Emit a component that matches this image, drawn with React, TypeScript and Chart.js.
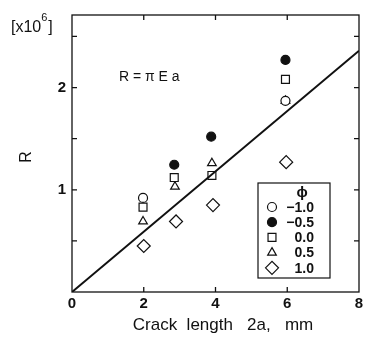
import React, { useEffect, useRef } from 'react';
import { Chart, registerables } from 'chart.js';
import { drawPoint } from 'chart.js/helpers';

Chart.register(...registerables);

// Data (R in units of 1e6, crack length 2a in mm)
const phiLabels = ['\u22121.0', '\u22120.5', '0.0', '0.5', '1.0'];
const xPhiM10 = [1.98, 5.95];
const yPhiM10 = [0.92, 1.87];
const xPhiM05 = [2.85, 3.88, 5.95];
const yPhiM05 = [1.245, 1.52, 2.27];
const xPhi00 = [1.98, 2.85, 3.9, 5.95];
const yPhi00 = [0.83, 1.12, 1.14, 2.08];
const xPhi05 = [1.98, 2.87, 3.9, 5.95];
const yPhi05 = [0.69, 1.03, 1.26, 1.87];
const xPhi10 = [2.0, 2.9, 3.93, 5.97];
const yPhi10 = [0.45, 0.69, 0.85, 1.27];
const lineX = [0, 8];
const lineY = [0, 2.36];
const xTicks = [2, 4, 6];
const yTicks = [0.5, 1, 1.5, 2, 2.5];

const FONT = '"Liberation Sans", Arial, sans-serif';
const INK = '#111';

const styles = [
  { pointStyle: 'circle', radius: 4.5, fill: '#fff' },
  { pointStyle: 'circle', radius: 4.5, fill: INK },
  { pointStyle: 'rect', radius: 5.6, fill: '#fff' },
  { pointStyle: 'triangle', radius: 5, fill: '#fff' },
  { pointStyle: 'rectRot', radius: 6.5, fill: '#fff' },
];

const zip = (xs: number[], ys: number[]) => xs.map((x, i) => ({ x, y: ys[i] }));

const decor = {
  id: 'decor',
  afterDraw(chart: any) {
    const ctx = chart.ctx as CanvasRenderingContext2D;
    const { left, right, top, bottom } = chart.chartArea;
    const xs = chart.scales.x;
    const ys = chart.scales.y;
    ctx.save();
    ctx.strokeStyle = INK;
    ctx.fillStyle = INK;
    ctx.lineWidth = 1.3;
    // frame
    ctx.strokeRect(left, top, right - left, bottom - top);
    // inward ticks
    ctx.beginPath();
    xTicks.forEach((v) => {
      const px = xs.getPixelForValue(v);
      ctx.moveTo(px, bottom);
      ctx.lineTo(px, bottom - 5);
      ctx.moveTo(px, top);
      ctx.lineTo(px, top + 5);
    });
    yTicks.forEach((v) => {
      const py = ys.getPixelForValue(v);
      ctx.moveTo(left, py);
      ctx.lineTo(left + 5, py);
      ctx.moveTo(right, py);
      ctx.lineTo(right - 5, py);
    });
    ctx.stroke();

    // texts
    ctx.textBaseline = 'middle';
    ctx.textAlign = 'left';
    ctx.font = `16px ${FONT}`;
    ctx.fillText('[x10', 11, 28);
    const w1 = ctx.measureText('[x10').width;
    ctx.font = `11px ${FONT}`;
    ctx.fillText('6', 11 + w1, 18);
    const w2 = ctx.measureText('6').width;
    ctx.font = `16px ${FONT}`;
    ctx.fillText(']', 11 + w1 + w2 + 1, 28);

    ctx.font = `14px ${FONT}`;
    ctx.fillText('R = \u03c0 E a', 119, 77);

    ctx.save();
    ctx.translate(27, 157);
    ctx.rotate(-Math.PI / 2);
    ctx.textAlign = 'center';
    ctx.font = `16px ${FONT}`;
    ctx.fillText('R', 0, 0);
    ctx.restore();

    ctx.textAlign = 'center';
    ctx.font = `17px ${FONT}`;
    ctx.fillText('Crack  length   2a,   mm', 223, 325);

    // legend
    const lx = 258, ly = 183, lw = 72, lh = 95;
    ctx.fillStyle = '#fff';
    ctx.fillRect(lx, ly, lw, lh);
    ctx.lineWidth = 1.2;
    ctx.strokeRect(lx, ly, lw, lh);
    ctx.fillStyle = INK;
    ctx.font = `bold 15px ${FONT}`;
    ctx.textAlign = 'center';
    ctx.fillText('\u03d5', 302, 193);
    ctx.textAlign = 'right';
    phiLabels.forEach((lab, i) => {
      const cy = 207 + i * 15.2;
      const st = styles[i];
      ctx.fillStyle = st.fill;
      ctx.strokeStyle = INK;
      ctx.lineWidth = 1.2;
      drawPoint(ctx, { pointStyle: st.pointStyle as any, radius: st.radius, rotation: 0, borderWidth: 1.2 }, 272, cy);
      ctx.fillStyle = INK;
      ctx.font = `bold 14px ${FONT}`;
      ctx.fillText(lab, 314, cy + 1);
    });
    ctx.restore();
  },
};

export default function App() {
  const ref = useRef<HTMLCanvasElement | null>(null);
  useEffect(() => {
    if (!ref.current) return;
    const series = [xPhiM10, xPhiM05, xPhi00, xPhi05, xPhi10];
    const vals = [yPhiM10, yPhiM05, yPhi00, yPhi05, yPhi10];
    const datasets: any[] = series.map((xsArr, i) => ({
      type: 'scatter',
      label: phiLabels[i],
      data: zip(xsArr, vals[i]),
      pointStyle: styles[i].pointStyle,
      pointRadius: styles[i].radius,
      pointBackgroundColor: styles[i].fill,
      pointBorderColor: INK,
      pointBorderWidth: 1.2,
      showLine: false,
    }));
    datasets.unshift({
      type: 'line',
      label: 'R = pi E a',
      data: zip(lineX, lineY),
      borderColor: INK,
      borderWidth: 2,
      pointRadius: 0,
      fill: false,
    });
    const chart = new Chart(ref.current, {
      type: 'scatter',
      data: { datasets },
      plugins: [decor],
      options: {
        responsive: false,
        animation: false,
        layout: { padding: { top: 14, right: 8, left: 0, bottom: 0 } },
        plugins: { legend: { display: false }, tooltip: { enabled: false } },
        scales: {
          x: {
            type: 'linear',
            min: 0,
            max: 8,
            grid: { display: false, drawTicks: false },
            border: { display: false },
            ticks: { stepSize: 2, font: { family: FONT, size: 15, weight: 'bold' }, color: INK, padding: 3, maxRotation: 0 },
            afterFit: (s: any) => { s.height = 45; },
          },
          y: {
            type: 'linear',
            min: 0,
            max: 2.71,
            grid: { display: false, drawTicks: false },
            border: { display: false },
            ticks: {
              stepSize: 0.5,
              font: { family: FONT, size: 15, weight: 'bold' },
              color: INK,
              padding: 6,
              callback: (v: any) => (v === 1 || v === 2 ? String(v) : ''),
            },
            afterFit: (s: any) => { s.width = 72; },
          },
        },
      } as any,
    });
    return () => chart.destroy();
  }, []);
  return (
    <div style={{ position: 'fixed', left: 0, top: 0, width: 367, height: 337, background: '#fff' }}>
      <canvas ref={ref} width={367} height={337} style={{ width: 367, height: 337 }} />
    </div>
  );
}
